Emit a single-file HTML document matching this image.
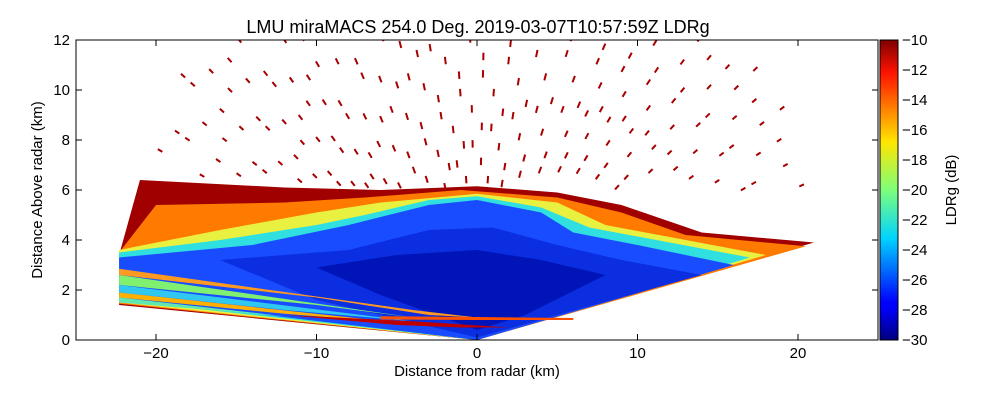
<!DOCTYPE html>
<html><head><meta charset="utf-8"><style>
body{margin:0;background:#fff;}
svg text{font-family:"Liberation Sans",sans-serif;}
</style></head><body>
<svg id="chart" width="1000" height="400" viewBox="0 0 1000 400" xmlns="http://www.w3.org/2000/svg">
<defs>
<linearGradient id="jet" x1="0" y1="1" x2="0" y2="0">
<stop offset="0" stop-color="#00007f"/><stop offset="0.11" stop-color="#0000ff"/><stop offset="0.125" stop-color="#0000ff"/>
<stop offset="0.34" stop-color="#00d4ff"/><stop offset="0.5" stop-color="#7dff7a"/><stop offset="0.66" stop-color="#ffe600"/>
<stop offset="0.89" stop-color="#ff1300"/><stop offset="1" stop-color="#7f0000"/>
</linearGradient>
<clipPath id="plotclip"><rect x="76" y="40" width="802" height="300"/></clipPath>
</defs>
<text x="478" y="33" font-size="18" text-anchor="middle">LMU miraMACS 254.0 Deg. 2019-03-07T10:57:59Z  LDRg</text>
<g id="plot" clip-path="url(#plotclip)"></g>
<rect x="76" y="40" width="802" height="300" fill="none" stroke="#000" stroke-width="1"/>
<g id="axes"></g>
<rect x="880" y="40" width="18" height="300" fill="url(#jet)" stroke="#000" stroke-width="1"/>
<text x="477" y="376" font-size="15" text-anchor="middle">Distance from radar (km)</text>
<text transform="translate(42,190) rotate(-90)" font-size="15" text-anchor="middle">Distance Above radar  (km)</text>
<text transform="translate(956,190) rotate(-90)" font-size="15" text-anchor="middle">LDRg (dB)</text>
</svg>
<script>
const xTicks=[-20,-10,0,10,20];
const yTicks=[0,2,4,6,8,10,12];
const cbTicks=[-10,-12,-14,-16,-18,-20,-22,-24,-26,-28,-30];
const layerColors=["#a00000","#ff7a00","#e8f040","#30e0e0","#1a4cff","#0a2ee0","#0014b8"];
const layerPolys=[
 [[-22.3,3.4],[-21,6.4],[-12,6.1],[-6,6.0],[0,6.15],[5,5.9],[9,5.4],[14,4.3],[21,3.9],[0,0],[-22.3,1.4]],
 [[-22.3,3.5],[-20,5.4],[-12,5.5],[-7,5.7],[-1,6.0],[5,5.7],[9,5.1],[13,4.2],[20.5,3.75],[0,0],[-22.3,1.45]],
 [[-22.3,3.6],[-16,4.4],[-10,5.1],[-6,5.5],[0,5.85],[5,5.5],[8,4.6],[13,4.0],[18,3.4],[0,0],[-22.3,1.5]],
 [[-22.3,3.5],[-16,4.0],[-10,4.6],[-7,5.0],[-3,5.6],[0,5.75],[4,5.3],[7,4.5],[12,3.9],[17,3.3],[0,0],[-22.3,1.6]],
 [[-22.3,3.3],[-14,3.8],[-8,4.6],[-3,5.4],[0,5.6],[4,5.1],[6,4.3],[10,3.8],[16,3.0],[0,0],[-22.3,1.7]],
 [[-16,3.2],[-8,3.6],[-3,4.4],[1,4.5],[5,3.8],[9,3.2],[14,2.6],[0,0.1],[-10,1.6]],
 [[-10,2.9],[-5,3.4],[0,3.6],[4,3.2],[8,2.6],[3,1.0],[0,0.4],[-6,1.8]]
];
const stripeColors=["#ff9a20","#80f070","#30c8f0","#ffb000","#60e8b0","#c00000","#ff5000"];
const stripePolys=[
 [[-22.3,2.85],[-22.3,2.6],[-10,1.7],[-3,1.0],[0,0.9],[-4,1.2]],
 [[-22.3,2.6],[-22.3,2.2],[-10,1.4],[-4,0.9]],
 [[-22.3,2.2],[-22.3,1.9],[-12,1.2],[-4,0.75]],
 [[-22.3,1.9],[-22.3,1.7],[-12,1.05],[-5,0.7]],
 [[-22.3,1.7],[-22.3,1.5],[-12,0.95]],
 [[-12,1.0],[-5,0.6],[-1,0.5],[2,0.5],[-4,0.75]],
 [[-6,0.82],[0,0.8],[6,0.8],[6,0.88],[0,0.92],[-6,0.95]]
];
const beamAngles=[17,20,23,26,29,32,35,38,41,44,47,50,53,56,60,64,68,72,76,80,84,88,92,96,100,104,108,112,116,120,124,128,132,135,138,141,144,147,150,153,156,159,162];
const gateRanges=[6.3,7.0,7.7,8.4,9.1,9.8,10.5,11.2,11.9,12.6,13.3,14.0,14.7,15.4,16.1,16.8,17.5,18.2,18.9,19.6,20.3,21.0];
const gateMask=[1,0,0,1,0,1,0,0,1,0,0,1,1,0,0];
const NS="http://www.w3.org/2000/svg";
const X=k=>477+16.05*k, Y=k=>340-25*k;
const plot=document.getElementById('plot'), axes=document.getElementById('axes');
layerPolys.forEach((p,i)=>{
 const e=document.createElementNS(NS,'polygon');
 e.setAttribute('points',p.map(q=>X(q[0])+','+Y(q[1])).join(' '));
 e.setAttribute('fill',layerColors[i]);
 
 
 plot.appendChild(e);
});
stripePolys.forEach((p,i)=>{
 const e=document.createElementNS(NS,'polygon');
 e.setAttribute('points',p.map(q=>X(q[0])+','+Y(q[1])).join(' '));
 e.setAttribute('fill',stripeColors[i]);
 
 
 plot.appendChild(e);
});
beamAngles.forEach((a,bi)=>{
 const r=a*Math.PI/180, c=Math.cos(r), s=Math.sin(r);
 gateRanges.forEach((g,gi)=>{
  if(!gateMask[(gi*2+bi)%gateMask.length])return;
  const y=g*s; if(y<5.9||y>12)return;
  const e=document.createElementNS(NS,'line');
  e.setAttribute('x1',X(g*c));e.setAttribute('y1',Y(y));
  e.setAttribute('x2',X((g+0.3)*c));e.setAttribute('y2',Y((g+0.3)*s));
  e.setAttribute('stroke','#a80000');e.setAttribute('stroke-width','2');
  
  
  plot.appendChild(e);
 });
});
function add(tag,attrs,name,txt){const e=document.createElementNS(NS,tag);for(const k in attrs)e.setAttribute(k,attrs[k]);if(txt!==undefined)e.textContent=txt;axes.appendChild(e);}
xTicks.forEach(t=>{const x=X(t);
 add('line',{x1:x,y1:340,x2:x,y2:334,stroke:'#000'},'x-tick');
 add('line',{x1:x,y1:40,x2:x,y2:46,stroke:'#000'},'x-tick-top');
 add('text',{x:x,y:358,'font-size':15,'text-anchor':'middle'},'x-tick-label',t<0?'\u2212'+(-t):String(t));});
yTicks.forEach(t=>{const y=Y(t);
 add('line',{x1:76,y1:y,x2:82,y2:y,stroke:'#000'},'y-tick');
 add('line',{x1:878,y1:y,x2:872,y2:y,stroke:'#000'},'y-tick-right');
 add('text',{x:70,y:y+5,'font-size':15,'text-anchor':'end'},'y-tick-label',String(t));});
cbTicks.forEach(t=>{const y=40+(-10-t)/20*300;
 add('line',{x1:894,y1:y,x2:898,y2:y,stroke:'#000'},'colorbar-tick');
 add('text',{x:902,y:y+5,'font-size':15},'colorbar-tick-label','\u2212'+(-t));});
</script>
</body></html>
